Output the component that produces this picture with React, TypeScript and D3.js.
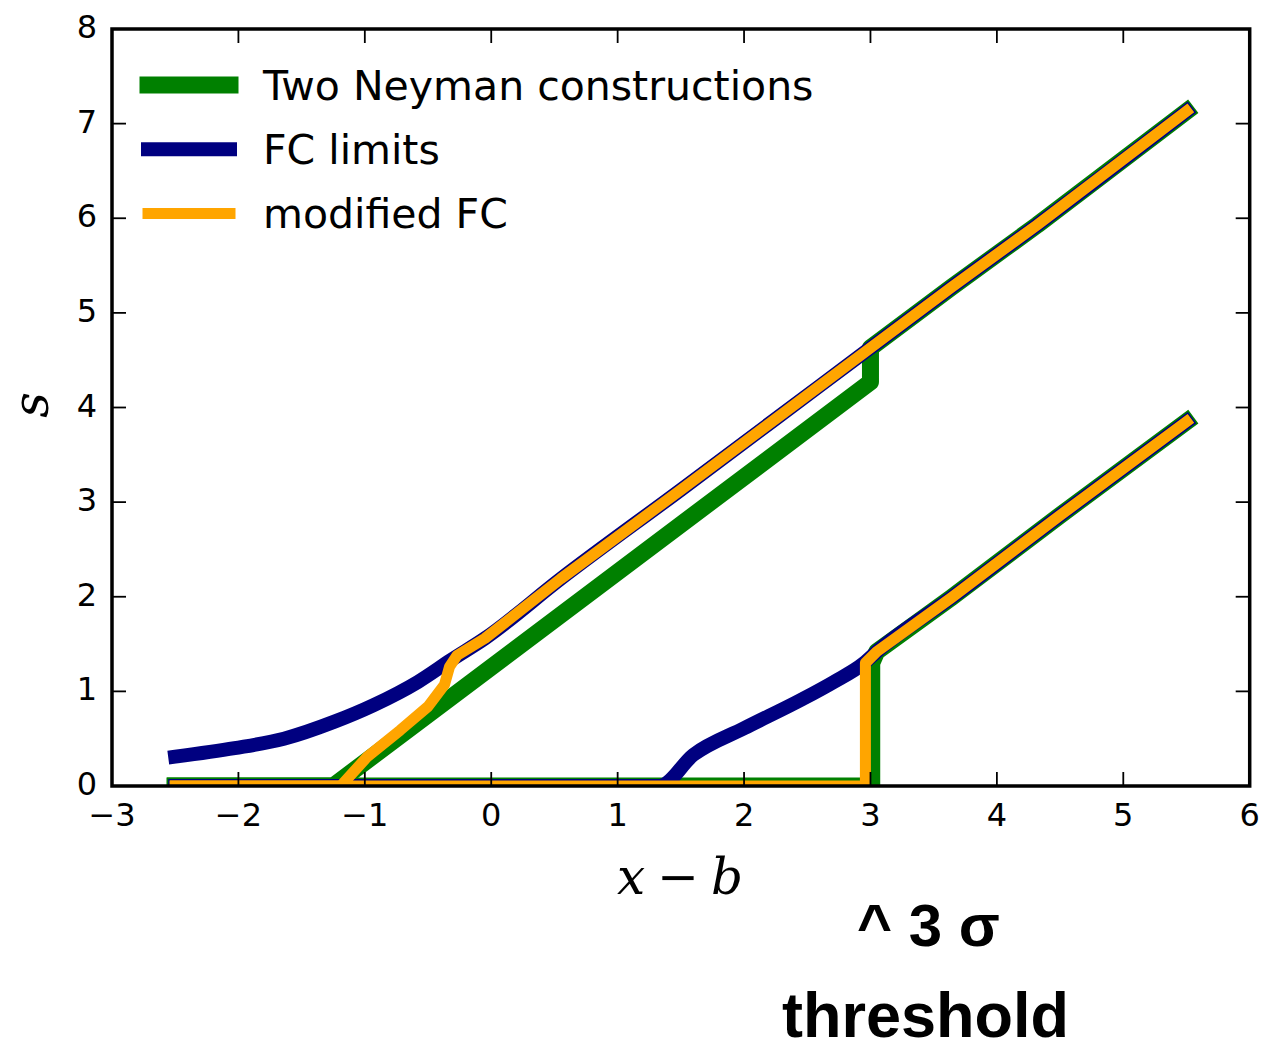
import React from 'react';
import * as d3 from 'd3';

// axis ticks
const xTicks = [-3, -2, -1, 0, 1, 2, 3, 4, 5, 6];
const yTicks = [0, 1, 2, 3, 4, 5, 6, 7, 8];

// shared tails (all three methods coincide here)
const upperTailX = [-0.05, 0.55, 1.5, 2.6, 3.0, 3.64, 4.32, 5.5];
const upperTailS = [1.56, 2.19, 3.13, 4.23, 4.63, 5.27, 5.93, 7.13];
const lowerTailX = [3.05, 3.64, 4.5, 5.5];
const lowerTailS = [1.42, 1.99, 2.86, 3.85];

// Two Neyman constructions
const neymanUpperX = [-2.5, -1.25, 3.0, 3.0, 3.64, 4.32, 5.5];
const neymanUpperS = [0, 0, 4.27, 4.63, 5.27, 5.93, 7.13];
const neymanLowerX = [-2.5, 3.01, 3.01, ...lowerTailX];
const neymanLowerS = [0, 0, 1.3, ...lowerTailS];

// FC limits
const fcUpperX = [-2.5, -2.03, -1.64, -1.24, -0.93, -0.58, -0.32, ...upperTailX];
const fcUpperS = [0.31, 0.4, 0.5, 0.68, 0.855, 1.1, 1.33, ...upperTailS];
const fcLowerX = [-2.5, 1.33, 1.6, 2.0, 2.45, 2.71, 2.95, ...lowerTailX];
const fcLowerS = [0, 0, 0.33, 0.61, 0.91, 1.1, 1.3, ...lowerTailS];

// modified FC
const modUpperX = [-2.5, -1.19, -0.98, -0.72, -0.5, -0.37, -0.33, -0.27, ...upperTailX];
const modUpperS = [0, 0, 0.31, 0.59, 0.84, 1.07, 1.26, 1.38, ...upperTailS];
const modLowerX = [-2.5, 2.96, 2.96, ...lowerTailX];
const modLowerS = [0, 0, 1.3, ...lowerTailS];

const series = [
  { label: 'Two Neyman constructions', color: 'green', lw: 17, smooth: false, curves: [[neymanUpperX, neymanUpperS], [neymanLowerX, neymanLowerS]] },
  { label: 'FC limits', color: 'navy', lw: 14, smooth: true, curves: [[fcUpperX, fcUpperS], [fcLowerX, fcLowerS]] },
  { label: 'modified FC', color: 'orange', lw: 11, smooth: false, curves: [[modUpperX, modUpperS], [modLowerX, modLowerS]] },
];

const W = 1281;
const H = 1044;
const left = 112, right = 1249.7, top = 29, bottom = 786;

export default function App() {
  const x = d3.scaleLinear().domain([-3, 6]).range([left, right]);
  const y = d3.scaleLinear().domain([0, 8]).range([bottom, top]);
  const line = d3.line<[number, number]>().x(d => x(d[0])).y(d => y(d[1]));
  const smoothLine = d3.line<[number, number]>().x(d => x(d[0])).y(d => y(d[1])).curve(d3.curveMonotoneX);
  const tickFont = { fontFamily: 'DejaVu Sans', fontSize: 32 };
  const tl = 14;

  return (
    <svg width={W} height={H} style={{ position: 'absolute', left: 0, top: 0, background: '#fff' }}>
      <defs>
        <clipPath id="plot">
          <rect x={left} y={top} width={right - left} height={bottom - top} />
        </clipPath>
      </defs>
      <rect x={0} y={0} width={W} height={H} fill="#fff" />

      {/* data lines */}
      <g clipPath="url(#plot)">
        {series.map(s =>
          s.curves.map(([xs, ss], i) => (
            <path
              key={s.label + i}
              d={(s.smooth ? smoothLine : line)(xs.map((v, j) => [v, ss[j]] as [number, number])) || ''}
              fill="none"
              stroke={s.color}
              strokeWidth={s.lw}
              strokeLinecap="square"
              strokeLinejoin="round"
            />
          ))
        )}
      </g>

      {/* ticks */}
      <g stroke="#000" strokeWidth={1.8}>
        {xTicks.map(t => (
          <g key={'xt' + t}>
            <line x1={x(t)} x2={x(t)} y1={bottom} y2={bottom - tl} />
            <line x1={x(t)} x2={x(t)} y1={top} y2={top + tl} />
          </g>
        ))}
        {yTicks.map(t => (
          <g key={'yt' + t}>
            <line x1={left} x2={left + tl} y1={y(t)} y2={y(t)} />
            <line x1={right} x2={right - tl} y1={y(t)} y2={y(t)} />
          </g>
        ))}
      </g>
      <rect x={left} y={top} width={right - left} height={bottom - top} fill="none" stroke="#000" strokeWidth={3.5} />

      {/* tick labels */}
      {xTicks.map(t => (
        <text key={'xl' + t} x={x(t)} y={826} textAnchor="middle" {...tickFont}>
          {t < 0 ? '\u2212' + Math.abs(t) : t}
        </text>
      ))}
      {yTicks.map(t => (
        <text key={'yl' + t} x={97} y={y(t) + 9} textAnchor="end" {...tickFont}>
          {t}
        </text>
      ))}

      {/* axis labels */}
      <text x={680} y={894} textAnchor="middle" fontFamily="DejaVu Serif" fontStyle="italic" fontSize={50}>
        x<tspan dx={12} fontStyle="normal">{'\u2212'}</tspan><tspan dx={12}>b</tspan>
      </text>
      <text transform="translate(48,405) rotate(-90)" textAnchor="middle" fontFamily="DejaVu Serif" fontStyle="italic" fontSize={50}>
        s
      </text>

      {/* legend */}
      {series.map((s, i) => {
        const ly = 85 + i * 64.3;
        return (
          <g key={'lg' + i}>
            <line x1={148} x2={230} y1={ly} y2={ly} stroke={s.color} strokeWidth={s.lw} strokeLinecap="square" />
            <text x={263} y={ly + 14.8} fontFamily="DejaVu Sans" fontSize={41}>{s.label}</text>
          </g>
        );
      })}

      {/* annotation */}
      <text x={857} y={946} fontFamily="Liberation Sans" fontWeight="bold" fontSize={60}>^ 3 σ</text>
      <text x={782} y={1037} fontFamily="Liberation Sans" fontWeight="bold" fontSize={63}>threshold</text>
    </svg>
  );
}
